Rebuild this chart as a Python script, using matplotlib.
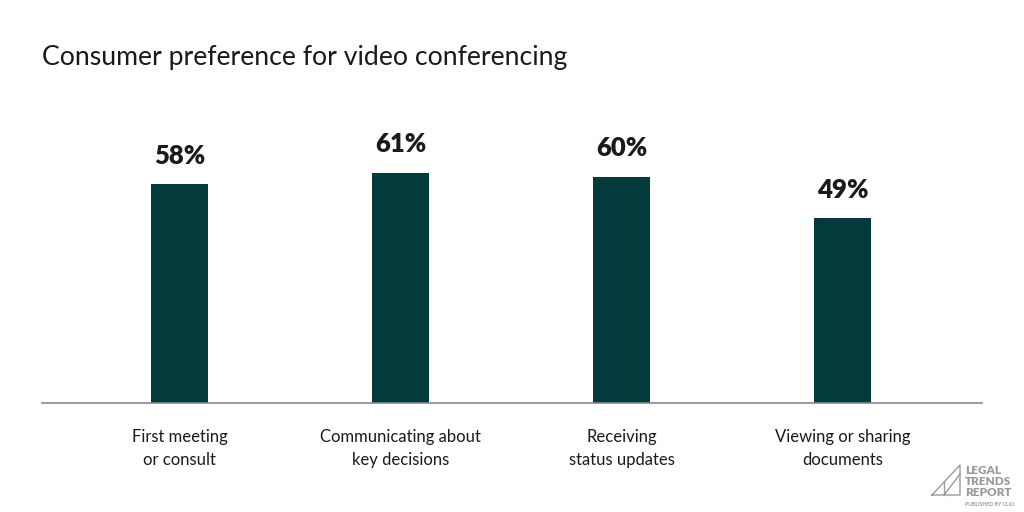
import matplotlib.pyplot as plt
import numpy as np

# data
categories = ['First meeting\nor consult', 'Communicating about\nkey decisions',
              'Receiving\nstatus updates', 'Viewing or sharing\ndocuments']
values = [58, 61, 60, 49]

bar_color = '#033b3c'
text_color = '#1a1a1a'
logo_color = '#9a9a9a'

plt.rcParams['font.family'] = ['Lato', 'DejaVu Sans']

fig = plt.figure(figsize=(10.24, 5.12), dpi=100)
ax = fig.add_axes([42 / 1024, 109 / 512, 940 / 1024, 301.6 / 512])

x = np.arange(len(categories))
ax.bar(x, values, width=0.258, color=bar_color)

for xi, v in zip(x, values):
    ax.annotate(f'{v}%', (xi, v), xytext=(0, 12), textcoords='offset points',
                ha='center', va='bottom', fontsize=18.5, fontweight='heavy',
                color=text_color)

ax.set_xlim(-0.624, 3.629)
ax.set_ylim(0, 80)
ax.set_yticks([])
ax.set_xticks(x)
ax.set_xticklabels(categories, fontsize=12, color=text_color, linespacing=1.5)
ax.tick_params(axis='x', length=0, pad=19)
for s in ['top', 'right', 'left']:
    ax.spines[s].set_visible(False)
ax.spines['bottom'].set_color('#8a8a8a')
ax.spines['bottom'].set_linewidth(1.2)

fig.text(42 / 1024, 1 - 57 / 512, 'Consumer preference for video conferencing',
         fontsize=19.2, color=text_color, ha='left', va='center')

# logo, bottom right (small axes in pixel units, y downward)
lx = fig.add_axes([928 / 1024, 12 / 512, 36 / 1024, 40 / 512])
lx.axis('off')
lx.plot([932, 960, 960, 932], [495, 465, 495, 495], color=logo_color, lw=1)
lx.plot([944, 960], [495, 474], color=logo_color, lw=1)
lx.plot([944, 944], [482, 495], color=logo_color, lw=1)
lx.set_xlim(928, 964)
lx.set_ylim(500, 460)
fig.text(965 / 1024, 1 - 465 / 512, 'LEGAL\nTRENDS\nREPORT', fontsize=8.5,
         fontweight='heavy', color=logo_color, ha='left', va='top', linespacing=1.0)
fig.text(965 / 1024, 1 - 504 / 512, 'PUBLISHED BY CLIO', fontsize=3.8,
         fontweight='bold', color=logo_color, ha='left', va='center')

fig.savefig('out.png', dpi=100)
